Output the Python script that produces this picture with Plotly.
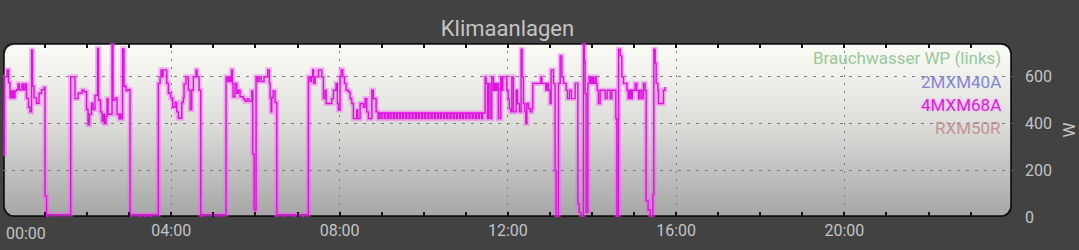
import base64
import pandas as pd
import plotly.graph_objects as go

# ---------------- data ----------------
title_text = "Klimaanlagen"
series_names = ["Brauchwasser WP (links)", "2MXM40A", "4MXM68A", "RXM50R"]
series_colors = ["#98c898", "#8585d8", "#dd22dd", "#c09494"]
y_axis_title = "W"
y_tick_values = [0, 200, 400, 600]
x_tick_labels = ["00:00", "04:00", "08:00", "12:00", "16:00", "20:00"]
x_tick_hours = [0, 4, 8, 12, 16, 20]

# 4MXM68A: minutes since midnight and power in W
minutes = [
    0.0, 2.1, 5.7, 7.8, 10.0, 11.4, 12.8, 14.3, 15.7, 17.1, 19.3, 21.4, 23.5, 27.1, 29.2, 31.4,
    33.5, 36.4, 38.5, 40.7, 42.1, 44.2, 47.8, 51.4, 54.9, 58.5, 59.9, 62.1, 63.5,
    96.6, 102.7, 107.0, 112.7, 115.5, 119.1, 121.3, 123.4, 126.2, 128.4, 131.2, 134.8, 136.2,
    139.1, 141.2, 143.4, 144.8, 146.9, 148.4, 149.8, 155.5, 156.9, 159.8, 162.6, 165.5, 166.9,
    168.3, 170.5, 172.6, 175.5, 178.3, 181.2, 182.5, 194.0, 195.0, 202.3, 203.3, 210.4, 211.4,
    221.5, 224.0, 225.4, 226.8, 228.2, 233.5, 235.8, 239.2, 242.1, 245.4, 247.8, 250.1, 254.9,
    257.2, 258.2, 261.0, 264.3, 266.8, 269.2, 271.5, 275.3, 276.7, 279.6, 282.0, 283.3, 299.5,
    300.5, 310.7, 311.7,
    318.1, 320.2, 322.4, 324.5, 325.9, 327.3, 328.1, 330.9, 333.4, 335.6, 338.1, 342.8, 345.2,
    348.1, 350.9, 354.8, 356.2, 358.1, 360.9, 363.1, 365.3, 368.1, 372.3, 377.6, 379.9, 380.9,
    382.3, 383.3, 385.2, 388.0, 390.5, 391.8, 401.8, 402.8, 414.6, 415.6, 427.5, 428.5,
    435.5, 437.9, 440.0, 441.7, 442.9, 445.1, 449.8, 454.6, 456.9, 459.3, 460.8, 468.9, 471.2,
    475.0, 476.9, 478.3, 480.7, 482.2, 484.6, 486.9, 489.3, 492.6, 495.0, 497.4, 499.7, 504.5,
    506.0, 509.3, 514.0, 516.4, 518.8, 521.1, 526.0, 528.2, 532.1,
    535.0, 536.5, 539.0, 540.5, 543.5, 545.0, 548.0, 549.5, 552.0, 553.5, 556.5, 558.0, 561.0,
    562.5, 565.5, 567.0, 570.0, 571.5, 574.5, 576.0, 579.0, 580.5, 583.5, 585.0, 588.0, 589.5,
    592.5, 594.0, 597.0, 598.5, 601.5, 603.0, 606.0, 607.5, 610.5, 612.0, 615.0, 616.5, 619.5,
    621.0, 624.0, 625.5, 628.5, 630.0, 633.0, 634.5, 637.5, 639.0, 642.0, 643.5, 646.5, 648.0,
    651.0, 652.5, 655.5, 657.0, 660.0, 661.5, 664.5, 666.0, 669.0, 670.5, 673.5, 675.0, 678.0,
    679.5, 682.5, 684.0,
    687.6, 689.0, 690.9, 692.3, 694.7, 697.1, 699.4, 700.8, 702.3, 704.3, 706.5, 709.9, 711.4,
    712.8, 718.5, 720.4, 722.2, 724.2, 725.7, 728.0, 731.8, 733.7, 736.5, 738.9, 740.4, 742.2,
    744.2, 745.6, 747.1, 749.4, 751.8, 754.2, 755.6, 767.0, 768.4, 774.2, 775.6, 777.9, 780.3,
    781.7, 785.0, 787.4, 788.8, 792.1, 794.6, 797.0, 799.3, 803.1, 805.0, 807.9, 810.7, 816.0,
    819.8, 821.7, 824.5, 827.8, 829.2, 830.2, 831.6, 834.1, 835.9, 838.1, 840.2, 842.1, 844.5,
    845.9, 847.3, 849.2, 851.6, 858.8, 861.6, 865.9, 868.3, 874.0, 875.5, 877.8, 880.2, 882.6,
    884.9, 889.8, 891.6, 893.5, 895.5, 897.5, 901.5, 903.9, 906.5, 908.6, 911.1, 913.4, 915.8,
    917.2, 920.0, 922.9, 926.8, 928.2, 930.1, 931.5, 933.9, 934.8, 941.9, 944.3,
]
watts = [
    270, 600, 630, 575, 510, 540, 510, 540, 510, 540, 545, 570, 545, 570, 545, 570,
    508, 470, 450, 715, 560, 510, 487, 530, 545, 555, 90, 0, 10,
    600, 507, 530, 543, 536, 460, 395, 440, 487, 460, 520, 722, 500,
    450, 410, 440, 400, 430, 507, 440, 760, 500, 510, 440, 420, 440,
    420, 720, 560, 540, 545, 0, 10, 0, 10, 0, 10, 0, 10,
    572, 600, 630, 600, 630, 572, 530, 510, 470, 490, 450, 423, 490,
    510, 570, 600, 543, 460, 543, 600, 630, 600, 543, 0, 10, 0,
    10, 0, 10,
    600, 580, 600, 580, 630, 572, 515, 572, 530, 543, 515, 505, 495,
    505, 495, 540, 270, 30, 600, 580, 600, 580, 600, 630, 572, 510,
    450, 510, 540, 490, 0, 10, 0, 10, 0, 10, 0, 10,
    600, 580, 600, 630, 572, 600, 630, 600, 507, 543, 486, 507, 543,
    572, 486, 458, 600, 630, 600, 572, 543, 535, 507, 486, 421, 458,
    421, 486, 470, 507, 450, 421, 543, 507, 450,
    421, 445, 421, 445, 421, 445, 421, 445, 421, 445, 421, 445, 421,
    445, 421, 445, 421, 445, 421, 445, 421, 445, 421, 445, 421, 445,
    421, 445, 421, 445, 421, 445, 421, 445, 421, 445, 421, 445, 421,
    445, 421, 445, 421, 445, 421, 445, 421, 445, 421, 445, 421, 445,
    421, 445, 421, 445, 421, 445, 421, 445, 421, 445, 421, 445, 421,
    445, 421, 445,
    600, 572, 421, 572, 421, 600, 543, 572, 543, 572, 421, 600, 543,
    600, 543, 507, 464, 450, 600, 450, 543, 486, 450, 718, 600, 486,
    450, 400, 486, 464, 450, 464, 572, 600, 572, 543, 572, 543, 486,
    630, 572, 198, 0, 572, 690, 600, 572, 543, 507, 543, 507, 572,
    56, 20, 0, 760, 665, 529, 20, 572, 600, 572, 600, 572, 600,
    572, 543, 486, 543, 507, 543, 507, 543, 421, 0, 718, 690, 600,
    572, 543, 507, 543, 507, 543, 572, 543, 507, 543, 507, 572, 543,
    69, 30, 0, 95, 718, 658, 572, 543, 486, 543, 557,
]

# ---------------- figure ----------------
base = pd.Timestamp("2024-01-01")
times = base + pd.to_timedelta(minutes, unit="min")
x_start = base
x_end = base + pd.Timedelta(hours=23, minutes=59)

FONT = "Roboto, 'Noto Sans', sans-serif"
TXT = "#c4c4c4"
GRID = "#7c7c7c"

fig = go.Figure()
# soft glow under the line
fig.add_trace(go.Scatter(
    x=times, y=watts, mode="lines", line=dict(shape="hv", width=5, color="rgba(240,90,240,0.42)"),
    hoverinfo="skip", showlegend=False))
fig.add_trace(go.Scatter(
    x=times, y=watts, mode="lines", name=series_names[2],
    line=dict(shape="hv", width=1.4, color="#e010e0"), showlegend=False))

# gradient, rounded-corner plot background
svg = (
    '<svg xmlns="http://www.w3.org/2000/svg" width="1011" height="174" viewBox="0 0 1011 174" '
    'preserveAspectRatio="none">'
    '<defs><linearGradient id="g" x1="0" y1="0" x2="0" y2="1">'
    '<stop offset="0" stop-color="#fcfcf7"/><stop offset="0.45" stop-color="#dededb"/>'
    '<stop offset="1" stop-color="#a6a6a6"/></linearGradient></defs>'
    '<rect x="0.9" y="0.9" width="1009.2" height="172.2" rx="10" ry="10" fill="url(#g)" '
    'stroke="#111" stroke-width="1.8"/></svg>'
)
src = "data:image/svg+xml;base64," + base64.b64encode(svg.encode()).decode()
fig.add_layout_image(dict(source=src, xref="paper", yref="paper", x=0, y=1, sizex=1, sizey=1,
                          xanchor="left", yanchor="top", sizing="stretch", layer="below"))

hour_ticks = [base + pd.Timedelta(hours=h) for h in range(1, 24)]
major_ticks = [base + pd.Timedelta(hours=h) for h in x_tick_hours[1:]]

fig.update_xaxes(
    type="date", range=[x_start, x_end],
    tickmode="array", tickvals=major_ticks, ticktext=x_tick_labels[1:],
    ticks="inside", ticklen=5, tickwidth=1.5, tickcolor="#111", mirror="ticks",
    showline=False, zeroline=False, ticklabelstandoff=2,
    showgrid=True, gridcolor=GRID, gridwidth=1, griddash="2px,6px",
    minor=dict(tickmode="array", tickvals=hour_ticks, ticks="inside", ticklen=5,
               tickwidth=1.5, tickcolor="#111", showgrid=False),
    tickfont=dict(family=FONT, size=16, color=TXT),
)
fig.update_yaxes(
    range=[0, 745], side="right", tickmode="array", tickvals=y_tick_values,
    ticks="", ticklabelstandoff=12, showline=False, zeroline=False,
    showgrid=True, gridcolor=GRID, gridwidth=1, griddash="3px,6px",
    tickfont=dict(family=FONT, size=16, color=TXT),
    title=dict(text=y_axis_title, font=dict(family=FONT, size=17, color=TXT), standoff=12),
)

annotations = [dict(text=x_tick_labels[0], xref="paper", yref="paper", x=0.001, y=-0.092,
                    xanchor="left", yanchor="middle", showarrow=False,
                    font=dict(family=FONT, size=16, color=TXT))]
legend_y = [0.912, 0.778, 0.644, 0.510]
for name, col, yy in zip(series_names, series_colors, legend_y):
    f = dict(family=FONT, size=17, color=col)
    if name == "4MXM68A":
        f["shadow"] = "0px 0px 3px #f7a0f7"
    annotations.append(dict(text=name, xref="paper", yref="paper", x=0.991, y=yy,
                            xanchor="right", yanchor="middle", showarrow=False, font=f))

fig.update_layout(
    width=1079, height=250, autosize=False,
    margin=dict(l=3, r=65, t=43, b=33, pad=0),
    paper_bgcolor="#424242", plot_bgcolor="rgba(0,0,0,0)",
    title=dict(text=title_text, x=0.5, xref="paper", y=1 - 28 / 250, yref="container",
               xanchor="center", yanchor="middle", font=dict(family=FONT, size=22, color=TXT)),
    annotations=annotations, showlegend=False,
)

fig.write_html("out.html", config={"displayModeBar": False})
